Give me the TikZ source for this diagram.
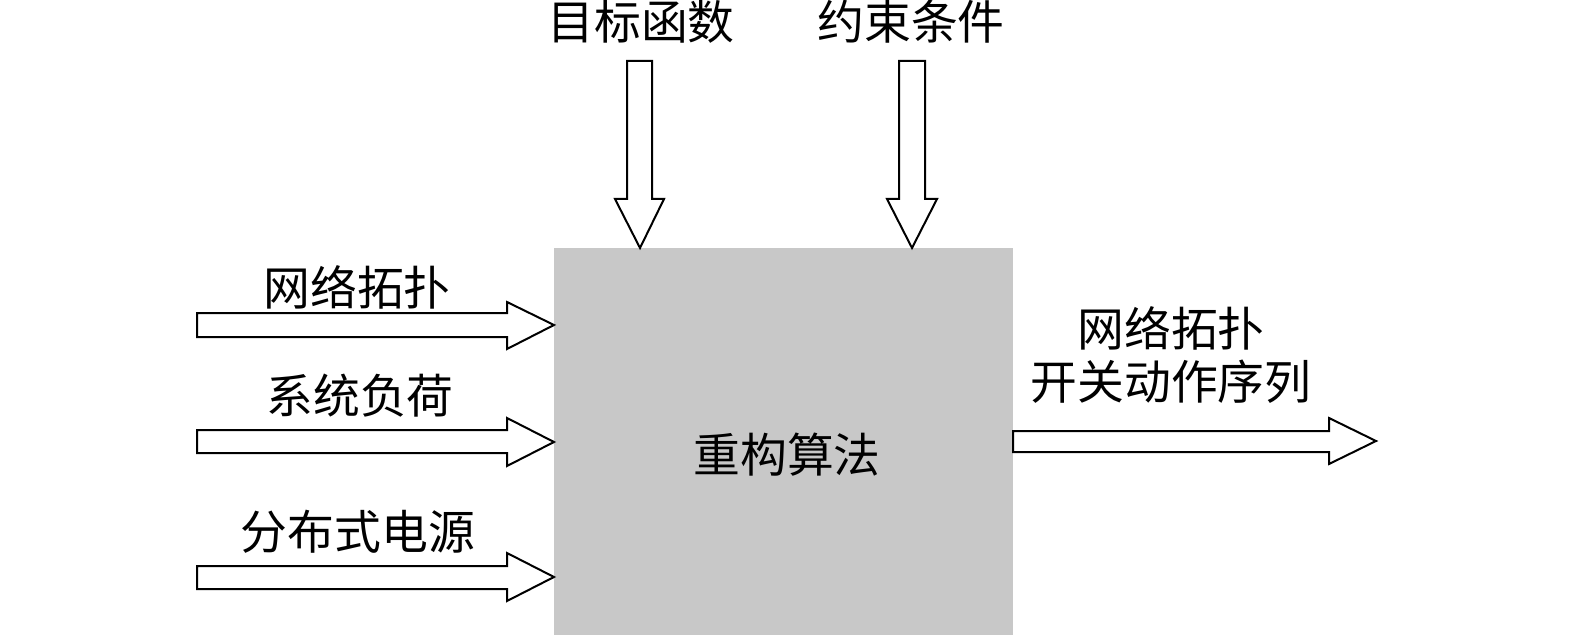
\documentclass[tikz,border=0pt]{standalone}
\usepackage{fontspec}
\newfontfamily\cjk{Noto Sans CJK SC}
\begin{document}
\begin{tikzpicture}[x=1bp,y=-1bp,
  blockarrow/.style={draw=black,fill=white,line width=2bp,line join=miter},
  lbl/.style={font=\cjk\fontsize{47}{54}\selectfont,inner sep=0pt,align=center}]
\useasboundingbox (0,0) rectangle (1575,635);
% central box
\fill[fill={rgb,255:red,200;green,200;blue,200}] (554,248) rectangle (1013,635);
\node[lbl] (alg) at (787,455) {重构算法};
\coordinate (boxW1) at (554,325);
\coordinate (boxW2) at (554,442);
\coordinate (boxW3) at (554,577);
% top arrows
\draw[blockarrow] (627,61) -- (652,61) -- (652,199) -- (664,199) -- (640,248) -- (615,199) -- (627,199) -- cycle;
\draw[blockarrow] (899,61) -- (925,61) -- (925,199) -- (937,199) -- (912,248) -- (887,199) -- (899,199) -- cycle;
\node[lbl] (obj) at (641,22) {目标函数};
\node[lbl] (con) at (911,22) {约束条件};
% left arrows
\draw[blockarrow] (197,313) -- (507,313) -- (507,302) -- (boxW1) -- (507,349) -- (507,337) -- (197,337) -- cycle;
\draw[blockarrow] (197,430) -- (507,430) -- (507,418) -- (boxW2) -- (507,466) -- (507,453) -- (197,453) -- cycle;
\draw[blockarrow] (197,566) -- (507,566) -- (507,553) -- (boxW3) -- (507,601) -- (507,589) -- (197,589) -- cycle;
\node[lbl] (in1) at (357,287) {网络拓扑};
\node[lbl] (in2) at (360,396) {系统负荷};
\node[lbl] (in3) at (358,532) {分布式电源};
% right arrow
\draw[blockarrow] (1013,431) -- (1329,431) -- (1329,418) -- (1376,441) -- (1329,464) -- (1329,452) -- (1013,452) -- cycle;
\node[lbl] (out) at (1171,355) {网络拓扑\\[0pt]开关动作序列};
\end{tikzpicture}
\end{document}
